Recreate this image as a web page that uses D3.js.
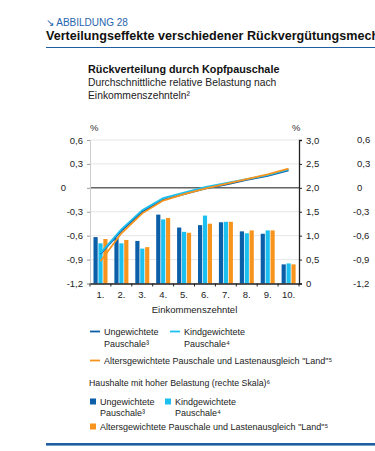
<!DOCTYPE html>
<html>
<head>
<meta charset="utf-8">
<script src="https://cdn.jsdelivr.net/npm/d3@7/dist/d3.min.js"></script>
<style>
  body { margin: 0; background: #fff; }
  svg { display: block; font-family: "Liberation Sans", Arial, sans-serif; }
</style>
</head>
<body>
<div id="chart"></div>
<script>
// Daten
const deciles = ['1.', '2.', '3.', '4.', '5.', '6.', '7.', '8.', '9.', '10.'];
const seriesNames = ['Ungewichtete', 'Kindgewichtete', 'Altersgewichtete'];
const seriesColors = ['#0b5ea8', '#1cc0f0', '#f7941d'];

// Linien (linke Skala, %)
const lineUngew = [-0.83, -0.54, -0.30, -0.15, -0.08, -0.01, 0.04, 0.10, 0.15, 0.22];
const lineKind  = [-0.82, -0.52, -0.28, -0.13, -0.06, 0.01, 0.06, 0.11, 0.16, 0.23];
const lineAlter = [-0.92, -0.57, -0.32, -0.16, -0.08, -0.01, 0.05, 0.11, 0.17, 0.24];

// Balken (rechte Skala, %)
const barUngew = [0.97, 0.95, 0.89, 1.44, 1.17, 1.22, 1.28, 1.09, 1.04, 0.40];
const barKind  = [0.84, 0.84, 0.73, 1.34, 1.08, 1.42, 1.29, 1.05, 1.11, 0.42];
const barAlter = [0.93, 0.91, 0.76, 1.37, 1.06, 1.25, 1.29, 1.11, 1.11, 0.40];

const leftTicks = [0.6, 0.3, 0, -0.3, -0.6, -0.9, -1.2];
const leftTickLabels = ['0,6', '0,3', '0', '-0,3', '-0,6', '-0,9', '-1,2'];
const rightTicks = [3, 2.5, 2, 1.5, 1, 0.5, 0];
const rightTickLabels = ['3,0', '2,5', '2,0', '1,5', '1,0', '0,5', '0'];

const lines = [lineUngew, lineKind, lineAlter];
const bars = [barUngew, barKind, barAlter];

const W = 375, H = 451;
const svg = d3.select('#chart').append('svg').attr('width', W).attr('height', H);

// Kopf
svg.append('text').attr('x', 46).attr('y', 26).attr('fill', '#1f64ad')
  .style('font-size', '10px').text('\u2198 ABBILDUNG 28');
svg.append('text').attr('x', 46).attr('y', 40).attr('fill', '#111')
  .style('font-size', '12.6px').style('font-weight', 'bold')
  .text('Verteilungseffekte verschiedener Rückvergütungsmechanismen');
svg.append('line').attr('x1', 46).attr('x2', W).attr('y1', 47.5).attr('y2', 47.5)
  .attr('stroke', '#1f5fa0').attr('stroke-width', 1.2);

svg.append('text').attr('x', 88).attr('y', 73).attr('fill', '#111')
  .style('font-size', '10.8px').style('font-weight', 'bold').text('Rückverteilung durch Kopfpauschale');
svg.append('text').attr('x', 88).attr('y', 86).attr('fill', '#222')
  .style('font-size', '10.3px').text('Durchschnittliche relative Belastung nach');
svg.append('text').attr('x', 88).attr('y', 99).attr('fill', '#222')
  .style('font-size', '10.3px').text('Einkommenszehnteln\u00b2');

// Skalen
const pLeft = 90, pRight = 299, pTop = 140, pBottom = 283.5;
const x = d3.scaleBand().domain(deciles).range([pLeft, pRight]);
const x1 = d3.scaleBand().domain(seriesNames).range([3.5, 17.5]).paddingInner(0.15);
const yL = d3.scaleLinear().domain([-1.2, 0.6]).range([pBottom, pTop]);
const yR = d3.scaleLinear().domain([0, 3]).range([pBottom, pTop]);

const g = svg.append('g');

// Gitter
g.selectAll('.grid').data(leftTicks).enter().append('line')
  .attr('x1', pLeft).attr('x2', pRight)
  .attr('y1', d => yL(d)).attr('y2', d => yL(d))
  .attr('stroke', '#e6e6e6').attr('stroke-width', 1);

// Balken
bars.forEach((vals, s) => {
  g.selectAll('.bar' + s).data(vals).enter().append('rect')
    .attr('x', (d, i) => x(deciles[i]) + x1(seriesNames[s]))
    .attr('width', x1.bandwidth())
    .attr('y', d => yR(d))
    .attr('height', d => yR(0) - yR(d))
    .attr('fill', seriesColors[s]);
});

// Nulllinie
g.append('line').attr('x1', pLeft).attr('x2', pRight)
  .attr('y1', yL(0)).attr('y2', yL(0))
  .attr('stroke', '#666').attr('stroke-width', 1.5);

// Linien
const line = d3.line()
  .x((d, i) => x(deciles[i]) + x.bandwidth() / 2)
  .y(d => yL(d));
lines.forEach((vals, s) => {
  g.append('path').datum(vals).attr('d', line)
    .attr('fill', 'none').attr('stroke', seriesColors[s]).attr('stroke-width', 1.8);
});

// Achsen
const axL = g.append('g').attr('transform', `translate(${pLeft},0)`)
  .call(d3.axisLeft(yL).tickValues(leftTicks).tickSize(3).tickPadding(4)
    .tickFormat((d, i) => leftTickLabels[i]));
axL.select('.domain').attr('stroke', '#ccc');
axL.selectAll('.tick line').attr('stroke', '#999');
axL.selectAll('text').style('font-size', '9.5px').attr('fill', '#222');
// "0" steht im Original etwas weiter links
axL.selectAll('.tick').filter(d => d === 0).select('text').attr('dx', -17);

const axR = g.append('g').attr('transform', `translate(${pRight},0)`)
  .call(d3.axisRight(yR).tickValues(rightTicks).tickSize(3).tickPadding(4)
    .tickFormat((d, i) => rightTickLabels[i]));
axR.select('.domain').attr('stroke', '#222').attr('stroke-width', 1.3);
axR.selectAll('.tick line').attr('stroke', '#222');
axR.selectAll('text').style('font-size', '9.5px').attr('fill', '#222');

const axB = g.append('g').attr('transform', `translate(0,${pBottom})`)
  .call(d3.axisBottom(x).tickSize(0).tickPadding(8));
axB.select('.domain').attr('stroke', '#222').attr('stroke-width', 1.3);
axB.selectAll('text').style('font-size', '9.5px').attr('fill', '#222');
// Trennstriche zwischen den Zehnteln
axB.selectAll('.sep').data(deciles).enter().append('line')
  .attr('x1', d => x(d)).attr('x2', d => x(d))
  .attr('y1', 0).attr('y2', 3).attr('stroke', '#222');
axB.append('line').attr('x1', pRight).attr('x2', pRight).attr('y1', 0).attr('y2', 3).attr('stroke', '#222');

svg.append('text').attr('x', pLeft).attr('y', 131).style('font-size', '9.5px').attr('fill', '#333').text('%');
svg.append('text').attr('x', pRight - 7).attr('y', 131).style('font-size', '9.5px').attr('fill', '#333').text('%');

svg.append('text').attr('x', (pLeft + pRight) / 2).attr('y', 313).attr('text-anchor', 'middle')
  .style('font-size', '9.5px').attr('fill', '#222').text('Einkommenszehntel');

// Nachbargrafik (angeschnitten)
svg.append('g').selectAll('text').data(leftTicks).enter().append('text')
  .attr('x', d => d < 0 ? 353 : 357).attr('y', d => yL(d)).attr('dy', '0.32em')
  .style('font-size', '9.5px').attr('fill', '#222')
  .text((d, i) => leftTickLabels[i]);

// Legende
const legendLabels = [
  ['Ungewichtete', 'Pauschale\u00b3'],
  ['Kindgewichtete', 'Pauschale\u2074'],
  ['Altersgewichtete Pauschale und Lastenausgleich "Land"\u2075']
];
const lgPos = [[90, 335], [170, 335], [90, 364]];
const leg = svg.append('g').style('font-size', '9px').attr('fill', '#222');
lgPos.forEach((p, s) => {
  leg.append('line').attr('x1', p[0]).attr('x2', p[0] + 10)
    .attr('y1', p[1] - 3.5).attr('y2', p[1] - 3.5)
    .attr('stroke', seriesColors[s]).attr('stroke-width', 1.8);
  legendLabels[s].forEach((t, k) => {
    leg.append('text').attr('x', p[0] + 14).attr('y', p[1] + k * 11.5).text(t);
  });
});

svg.append('text').attr('x', 89).attr('y', 386).style('font-size', '8.8px').attr('fill', '#222')
  .text('Haushalte mit hoher Belastung (rechte Skala)\u2076');

const sqPos = [[90, 405], [165, 405], [90, 430]];
sqPos.forEach((p, s) => {
  leg.append('rect').attr('x', p[0]).attr('y', p[1] - 6.5).attr('width', 6).attr('height', 6)
    .attr('fill', seriesColors[s]);
  legendLabels[s].forEach((t, k) => {
    leg.append('text').attr('x', p[0] + 10).attr('y', p[1] + k * 11).text(t);
  });
});

svg.append('rect').attr('x', 46).attr('y', 443).attr('width', W - 46).attr('height', 2.6)
  .attr('fill', '#1f5fa0');
</script>
</body>
</html>
